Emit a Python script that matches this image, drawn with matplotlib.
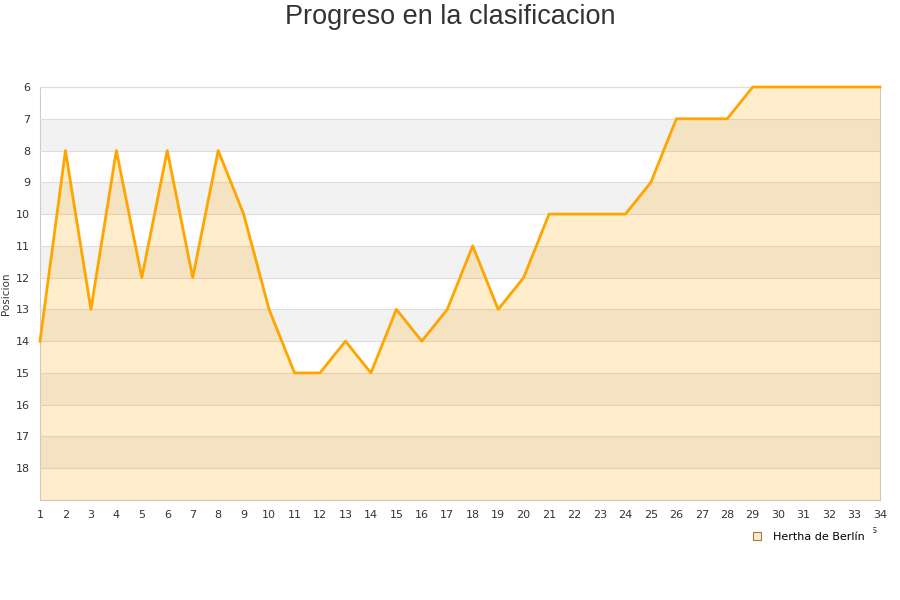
import matplotlib
matplotlib.use("Agg")
import matplotlib.pyplot as plt
from matplotlib.lines import Line2D

jornadas = list(range(1, 35))
posiciones = [14, 8, 13, 8, 12, 8, 12, 8, 10, 13, 15, 15, 14, 15, 13, 14, 13, 11,
              13, 12, 10, 10, 10, 10, 9, 7, 7, 7, 6, 6, 6, 6, 6, 6]
equipo = "Hertha de Berlín"

fig = plt.figure(figsize=(9, 6), dpi=100)
ax = fig.add_axes([40 / 900, 1 - 500 / 600, 840 / 900, 413 / 600])

# alternating bands
for y in range(7, 19, 2):
    ax.axhspan(y, y + 1, color="#f2f2f2", zorder=0, lw=0)
for y in range(6, 20):
    ax.axhline(y, color="#dddddd", lw=0.8, zorder=1)

ax.fill_between(jornadas, posiciones, 19, color="orange", alpha=0.2, lw=0, zorder=2)
ax.plot(jornadas, posiciones, color="#FFA500", lw=2.0, zorder=3, clip_on=False)

ax.set_xlim(1, 34)
ax.set_ylim(19, 6)
ax.set_xticks(jornadas)
ax.set_yticks(range(6, 19))
ax.tick_params(length=0, labelsize=8, colors="#333333", pad=7)
for s in ax.spines.values():
    s.set_color("#cccccc")
    s.set_zorder(0.5)

ax.set_ylabel("Posicion", fontsize=7.5, color="#333333", labelpad=4)
ax.set_xlabel("Jornadas", fontsize=7.5, color="#333333", ha="right")
ax.xaxis.set_label_coords(0.9975, -0.06)

fig.text(0.5, 0.993, "Progreso en la clasificacion", ha="center", va="top",
         fontsize=19.5, color="#333333", family="Liberation Sans")

# la leyenda tapa casi toda la etiqueta del eje x, como en el original
handle = Line2D([], [], marker="s", ls="none", markersize=6,
                markerfacecolor="#ffebcc", markeredgecolor="#a07840", markeredgewidth=0.8)
leg = fig.legend([handle], [equipo], loc="center", bbox_to_anchor=(0.895, 0.105),
                 fontsize=8, frameon=True, framealpha=1, handletextpad=0.4, borderpad=0.7)
leg.get_frame().set_facecolor("white")
leg.get_frame().set_edgecolor("white")

fig.savefig("out.png", dpi=100)
